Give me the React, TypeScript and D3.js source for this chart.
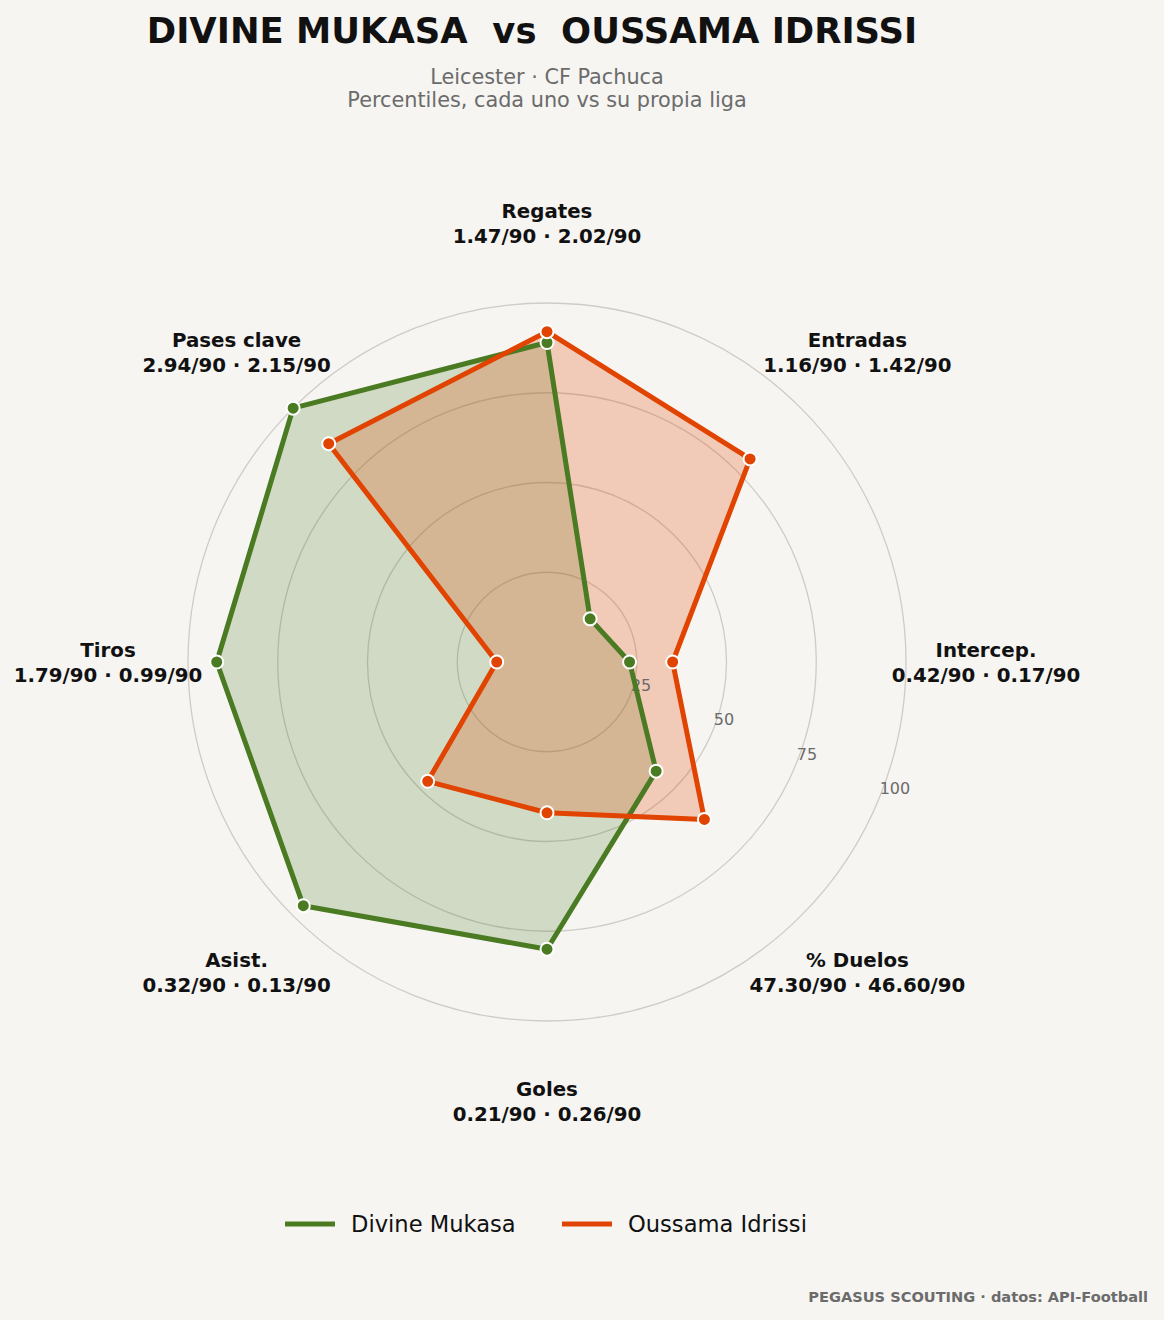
import * as d3 from 'd3';

const categories = ['Regates', 'Entradas', 'Intercep.', '% Duelos', 'Goles', 'Asist.', 'Tiros', 'Pases clave'];
const statLabels = [
    '1.47/90 · 2.02/90',
    '1.16/90 · 1.42/90',
    '0.42/90 · 0.17/90',
    '47.30/90 · 46.60/90',
    '0.21/90 · 0.26/90',
    '0.32/90 · 0.13/90',
    '1.79/90 · 0.99/90',
    '2.94/90 · 2.15/90',
];
const mukasaValues = [89, 17, 23, 43, 80, 96, 92, 100];
const idrissiValues = [92, 80, 35, 62, 42, 47, 14, 86];
const ringTicks = [25, 50, 75, 100];

const players = [
    { name: 'Divine Mukasa', values: mukasaValues, color: '#4a7a22', fill: 0.22 },
    { name: 'Oussama Idrissi', values: idrissiValues, color: '#e04400', fill: 0.24 },
];

const W = 1164;
const H = 1320;
const cx = 547;
const cy = 662;
const R = 359;
const font = 'DejaVu Sans, sans-serif';

export default function App() {
    const r = d3.scaleLinear().domain([0, 100]).range([0, R]);
    const angle = d3.scaleLinear().domain([0, categories.length]).range([0, 2 * Math.PI]);

    const line = d3
        .lineRadial<number>()
        .angle((_, i) => angle(i))
        .radius((v) => r(v))
        .curve(d3.curveLinearClosed);

    const point = (v: number, i: number) => {
        const a = angle(i);
        return [Math.sin(a) * r(v), -Math.cos(a) * r(v)];
    };

    const labelR = 439;
    const tickAngle = (22.5 * Math.PI) / 180;

    return (
        <svg
            width={W}
            height={H}
            style={{ display: 'block', position: 'absolute', left: 0, top: 0, background: '#f6f5f2' }}
        >
            <rect width={W} height={H} fill="#f6f5f2" />
            <text
                x={532}
                y={43}
                textAnchor="middle"
                fontFamily={font}
                fontWeight="bold"
                fontSize={35.4}
                fill="#111"
                style={{ whiteSpace: 'pre' }}
            >
                {'DIVINE MUKASA  vs  OUSSAMA IDRISSI'}
            </text>
            <text x={547} y={84} textAnchor="middle" fontFamily={font} fontSize={20.8} fill="#6b6b6b">
                Leicester · CF Pachuca
            </text>
            <text x={547} y={107} textAnchor="middle" fontFamily={font} fontSize={20.8} fill="#6b6b6b">
                Percentiles, cada uno vs su propia liga
            </text>

            <g transform={`translate(${cx},${cy})`}>
                {ringTicks.map((t) => (
                    <circle key={t} r={r(t)} fill="none" stroke="#cfccc6" strokeWidth={1.3} />
                ))}
                {players.map((p) => (
                    <path key={p.name + 'f'} d={line(p.values) ?? ''} fill={p.color} fillOpacity={p.fill} stroke="none" />
                ))}
                {ringTicks.map((t) => (
                    <text
                        key={t}
                        x={Math.cos(tickAngle) * r(t) + 1}
                        y={Math.sin(tickAngle) * r(t) - 10}
                        textAnchor="start"
                        dominantBaseline="middle"
                        fontFamily={font}
                        fontSize={16}
                        fill="#6b6b6b"
                    >
                        {t}
                    </text>
                ))}
                {players.map((p) => (
                    <g key={p.name}>
                        <path d={line(p.values) ?? ''} fill="none" stroke={p.color} strokeWidth={5} strokeLinejoin="round" />
                        {p.values.map((v, i) => {
                            const [x, y] = point(v, i);
                            return <circle key={i} cx={x} cy={y} r={6.5} fill={p.color} stroke="#fff" strokeWidth={2} />;
                        })}
                    </g>
                ))}
                {categories.map((c, i) => {
                    const a = angle(i);
                    const x = Math.sin(a) * labelR;
                    const y = -Math.cos(a) * labelR;
                    return (
                        <text key={c} x={x} y={y} textAnchor="middle" fontFamily={font} fontWeight="bold" fontSize={19.8} fill="#111">
                            <tspan x={x} dy={-5}>
                                {c}
                            </tspan>
                            <tspan x={x} dy={25}>
                                {statLabels[i]}
                            </tspan>
                        </text>
                    );
                })}
            </g>

            <g transform="translate(0,1224)">
                {players.map((p, i) => {
                    const x0 = i === 0 ? 285 : 562;
                    return (
                        <g key={p.name}>
                            <line x1={x0} x2={x0 + 50} y1={0} y2={0} stroke={p.color} strokeWidth={5} />
                            <text x={x0 + 66} y={8} fontFamily={font} fontSize={22.6} fill="#111">
                                {p.name}
                            </text>
                        </g>
                    );
                })}
            </g>

            <text x={1148} y={1302} textAnchor="end" fontFamily={font} fontWeight="bold" fontSize={14.6} fill="#6b6b6b">
                PEGASUS SCOUTING · datos: API-Football
            </text>
        </svg>
    );
}
